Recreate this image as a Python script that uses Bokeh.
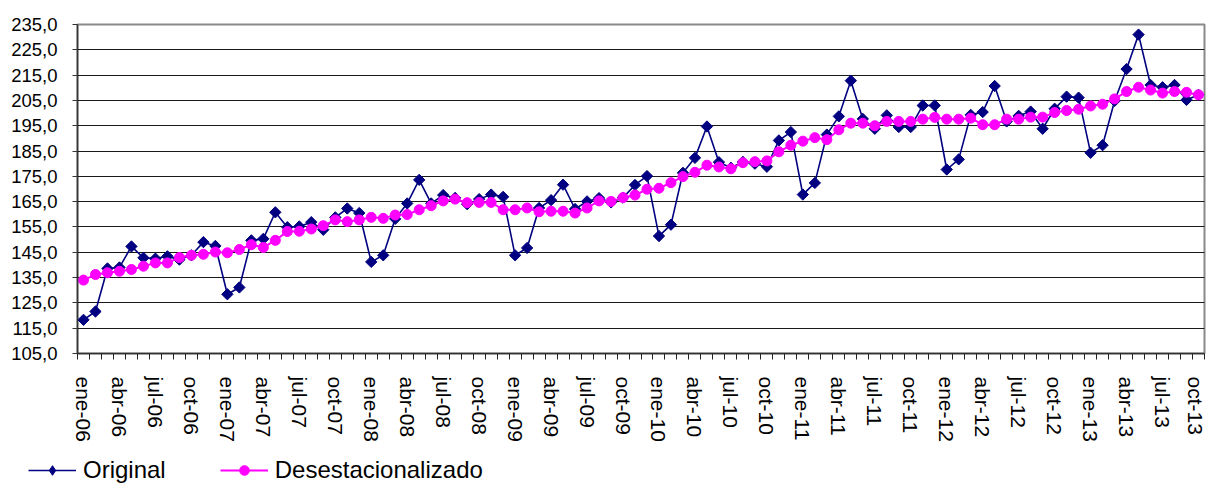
import math
from bokeh.plotting import figure
from bokeh.layouts import column, row
from bokeh.models import FixedTicker, Legend, LegendItem, ColumnDataSource, Range1d
from bokeh.embed import file_html
from bokeh.resources import INLINE

# Monthly series, ene-06 .. oct-13
original = [
    118.3, 121.6, 138.6, 139.0, 147.3, 142.8, 142.5, 143.4, 142.1, 143.8, 149.0, 147.5,  # 2006
    128.4, 131.1, 149.7, 150.3, 160.8, 154.9, 155.2, 156.9, 153.9, 158.8, 162.3, 160.5,  # 2007
    141.2, 143.8, 158.2, 164.3, 173.6, 164.3, 167.6, 166.5, 164.0, 166.0, 167.8, 166.9,  # 2008
    143.8, 146.7, 162.5, 165.6, 171.7, 162.1, 165.1, 166.4, 164.7, 166.6, 171.6, 175.1,  # 2009
    151.4, 155.9, 176.4, 182.3, 194.7, 180.6, 178.4, 180.7, 180.0, 178.8, 189.2, 192.5,  # 2010
    167.8, 172.4, 191.5, 198.7, 212.8, 197.7, 193.8, 199.1, 194.5, 194.5, 203.0, 203.0,  # 2011
    177.7, 181.7, 199.3, 200.4, 210.7, 196.7, 198.9, 200.6, 193.8, 201.7, 206.5, 206.1,  # 2012
    184.3, 187.3, 204.8, 217.4, 231.0, 211.1, 210.2, 211.1, 205.2, 207.2,                # 2013
]
desestacionalizado = [
    134.0, 136.2, 136.9, 137.5, 138.2, 139.5, 140.8, 140.8, 142.9, 143.8, 144.2, 145.1,
    144.8, 146.1, 148.0, 146.9, 149.7, 153.2, 153.3, 154.2, 155.5, 157.8, 157.1, 157.8,
    158.8, 158.4, 159.7, 159.9, 161.8, 163.4, 165.3, 166.0, 164.6, 164.7, 164.7, 161.8,
    161.8, 162.5, 161.0, 161.2, 161.2, 160.5, 162.5, 165.3, 165.1, 166.6, 167.6, 169.9,
    170.3, 172.5, 174.9, 176.6, 179.4, 178.7, 178.0, 180.4, 180.8, 181.1, 184.7, 187.3,
    188.9, 190.3, 189.5, 193.4, 196.0, 196.0, 195.0, 196.7, 196.7, 196.7, 197.6, 198.3,
    197.6, 197.6, 198.0, 195.4, 195.4, 197.6, 197.6, 198.4, 198.4, 200.2, 201.0, 201.5,
    202.8, 203.5, 205.6, 208.5, 210.2, 209.1, 207.9, 208.5, 208.2, 207.2,
]
x_tick_labels = [
    "ene-06", "abr-06", "jul-06", "oct-06", "ene-07", "abr-07", "jul-07", "oct-07",
    "ene-08", "abr-08", "jul-08", "oct-08", "ene-09", "abr-09", "jul-09", "oct-09",
    "ene-10", "abr-10", "jul-10", "oct-10", "ene-11", "abr-11", "jul-11", "oct-11",
    "ene-12", "abr-12", "jul-12", "oct-12", "ene-13", "abr-13", "jul-13", "oct-13",
]
y_ticks = [105, 115, 125, 135, 145, 155, 165, 175, 185, 195, 205, 215, 225, 235]
y_tick_labels = ["105,0", "115,0", "125,0", "135,0", "145,0", "155,0", "165,0",
                 "175,0", "185,0", "195,0", "205,0", "215,0", "225,0", "235,0"]
series_names = ["Original", "Desestacionalizado"]

n = len(original)
xs = list(range(n))
x_ticks = xs[::3]
src = ColumnDataSource(dict(x=xs, orig=original, des=desestacionalizado))

FONT = "Liberation Sans"
NAVY = "#000080"
MAGENTA = "#FF00FF"

p = figure(width=1206, height=444, output_backend="svg", toolbar_location=None,
           x_range=Range1d(-0.5, n - 0.5), y_range=Range1d(105, 235),
           min_border_left=77, min_border_top=24, min_border_right=2,
           min_border_bottom=88)
p.background_fill_color = "white"
p.border_fill_color = "white"
p.outline_line_color = "#8a8a8a"
p.outline_line_width = 2

# grid (top edge is drawn by the grey outline)
p.xgrid.visible = False
p.ygrid.ticker = FixedTicker(ticks=y_ticks[:-1])
p.ygrid.grid_line_color = "#000000"
p.ygrid.grid_line_width = 1
p.ygrid.grid_line_alpha = 0.9

# x axis
xa = p.xaxis[0]
xa.ticker = FixedTicker(ticks=x_ticks, minor_ticks=[i - 0.5 for i in range(n + 1)])
xa.major_label_overrides = {t: lab for t, lab in zip(x_ticks, x_tick_labels)}
xa.major_tick_out = 0
xa.major_tick_in = 0
xa.minor_tick_out = 6
xa.minor_tick_in = 0
xa.minor_tick_line_color = "#222222"
xa.axis_line_color = "#333333"
xa.axis_line_width = 1.5
xa.major_label_orientation = "vertical"
xa.major_label_standoff = 17
xa.major_label_text_font = FONT
xa.major_label_text_font_size = "21px"
xa.major_label_text_color = "black"

# y axis
ya = p.yaxis[0]
ya.ticker = FixedTicker(ticks=y_ticks, minor_ticks=[])
ya.major_label_overrides = {t: lab for t, lab in zip(y_ticks, y_tick_labels)}
ya.major_tick_out = 5
ya.major_tick_in = 0
ya.major_tick_line_color = "#333333"
ya.axis_line_color = "#333333"
ya.axis_line_width = 1.5
ya.major_label_standoff = 15
ya.major_label_text_font = FONT
ya.major_label_text_font_size = "18.5px"
ya.major_label_text_color = "black"

p.line("x", "orig", source=src, line_color=NAVY, line_width=1.6)
p.scatter("x", "orig", source=src, marker="square", angle=math.pi / 4,
          size=8, fill_color=NAVY, line_color=NAVY)
p.line("x", "des", source=src, line_color=MAGENTA, line_width=2)
p.scatter("x", "des", source=src, marker="circle", size=10,
          fill_color=MAGENTA, line_color=MAGENTA)

# legend strip below the chart (its renderers use the same data but the
# strip's ranges keep them out of view; only the legend samples show)
lg = figure(width=1206, height=40, output_backend="svg", toolbar_location=None,
            x_range=Range1d(0, 1), y_range=Range1d(0, 1),
            x_axis_type=None, y_axis_type=None,
            min_border_left=0, min_border_right=0, min_border_top=0, min_border_bottom=0)
lg.outline_line_color = None
lg.background_fill_color = "white"
lg.border_fill_color = "white"
lg.xgrid.visible = False
lg.ygrid.visible = False
a1 = lg.line("x", "orig", source=src, line_color=NAVY, line_width=1.6)
b1 = lg.scatter("x", "orig", source=src, marker="diamond", size=12,
                fill_color=NAVY, line_color=NAVY)
a2 = lg.line("x", "des", source=src, line_color=MAGENTA, line_width=2)
b2 = lg.scatter("x", "des", source=src, marker="circle", size=10,
                fill_color=MAGENTA, line_color=MAGENTA)
legend = Legend(items=[LegendItem(label=series_names[0], renderers=[a1, b1], index=0),
                       LegendItem(label=series_names[1], renderers=[a2, b2], index=0)],
                location=(28, 0), orientation="horizontal",
                padding=0, margin=0, spacing=54, label_standoff=7,
                glyph_width=48, glyph_height=24, label_height=24,
                label_text_font=FONT, label_text_font_size="24px",
                label_text_color="black",
                border_line_color=None, background_fill_alpha=0)
lg.add_layout(legend)

layout = column(row(p, spacing=0), row(lg, spacing=0), spacing=0)
open("out.html", "w").write(file_html(layout, INLINE))
